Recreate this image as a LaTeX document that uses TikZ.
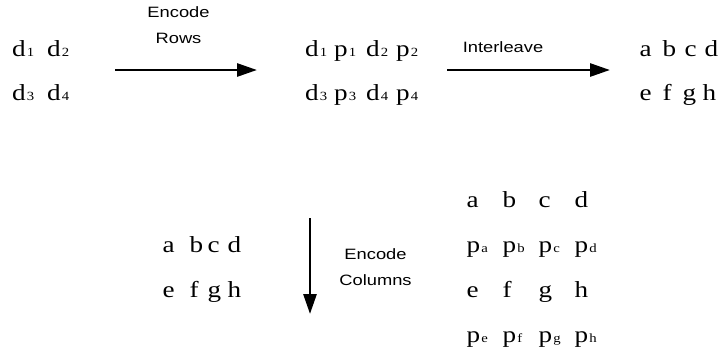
\documentclass[tikz,border=0pt]{standalone}
\usepackage{fontspec}
\setmainfont[FakeStretch=1.18]{Liberation Serif}
\setsansfont[FakeStretch=1.22]{Liberation Sans}
\usetikzlibrary{arrows.meta}
% small index set on the baseline
\newcommand\ix[1]{\kern1pt{\fontsize{12.5}{12.5}\selectfont #1}}
% fixed-width column inside a row
\newcommand\cell[2]{\makebox[#1][l]{#2}}
\tikzset{
  sym/.style={font=\fontsize{23}{23}\selectfont, inner sep=0pt, anchor=base west},
  lbl/.style={font=\sffamily\fontsize{15}{26}\selectfont, inner sep=0pt, anchor=base, align=center},
  flow/.style={line width=2.8pt, -{Triangle[length=20pt,width=13pt]}}
}
\begin{document}
\begin{tikzpicture}[x=1pt,y=-1pt]
\useasboundingbox (0,0) rectangle (722,354);

% data blocks
\node[sym] (dA) at (12,56.7) {\cell{35pt}{d\ix1}d\ix2};
\node[sym] (dB) at (12,100) {\cell{35pt}{d\ix3}d\ix4};

\node[sym] (rA) at (305,56.7) {\cell{29pt}{d\ix1}\cell{32pt}{p\ix1}\cell{30pt}{d\ix2}p\ix2};
\node[sym] (rB) at (305,100) {\cell{29pt}{d\ix3}\cell{32pt}{p\ix3}\cell{30pt}{d\ix4}p\ix4};

\node[sym] (iA) at (639.5,56.7) {\cell{23pt}{a}\cell{22pt}{b}\cell{20pt}{c}d};
\node[sym] (iB) at (639.5,100) {\cell{23pt}{e}\cell{20pt}{f}\cell{20pt}{g}h};

\node[sym] (cA) at (162.5,252) {\cell{27pt}{a}\cell{18pt}{b}\cell{20pt}{c}d};
\node[sym] (cB) at (162.5,297) {\cell{27pt}{e}\cell{18pt}{f}\cell{20pt}{g}h};

\node[sym] (qA) at (466.5,207) {\cell{36pt}{a}\cell{36pt}{b}\cell{36pt}{c}d};
\node[sym] (qB) at (466.5,252) {\cell{36pt}{p\ix a}\cell{36pt}{p\ix b}\cell{36pt}{p\ix c}p\ix d};
\node[sym] (qC) at (466.5,297) {\cell{36pt}{e}\cell{36pt}{f}\cell{36pt}{g}h};
\node[sym] (qD) at (466.5,342) {\cell{36pt}{p\ix e}\cell{36pt}{p\ix f}\cell{36pt}{p\ix g}p\ix h};

% arrow end points
\coordinate (a1s) at (115,70);
\coordinate (a1e) at (257,70);
\coordinate (a2s) at (447,70);
\coordinate (a2e) at (610,70);
\coordinate (a3s) at (310,218);
\coordinate (a3e) at (310,314);

\draw[flow] (a1s) -- (a1e);
\draw[flow] (a2s) -- (a2e);
\draw[flow] (a3s) -- (a3e);

% step labels (base anchor sits on the last line)
\node[lbl] (l1) at (178.5,43.3) {Encode\\Rows};
\node[lbl] (l2) at (503,52.7) {Interleave};
\node[lbl] (l3) at (375.5,285.3) {Encode\\Columns};
\end{tikzpicture}
\end{document}
